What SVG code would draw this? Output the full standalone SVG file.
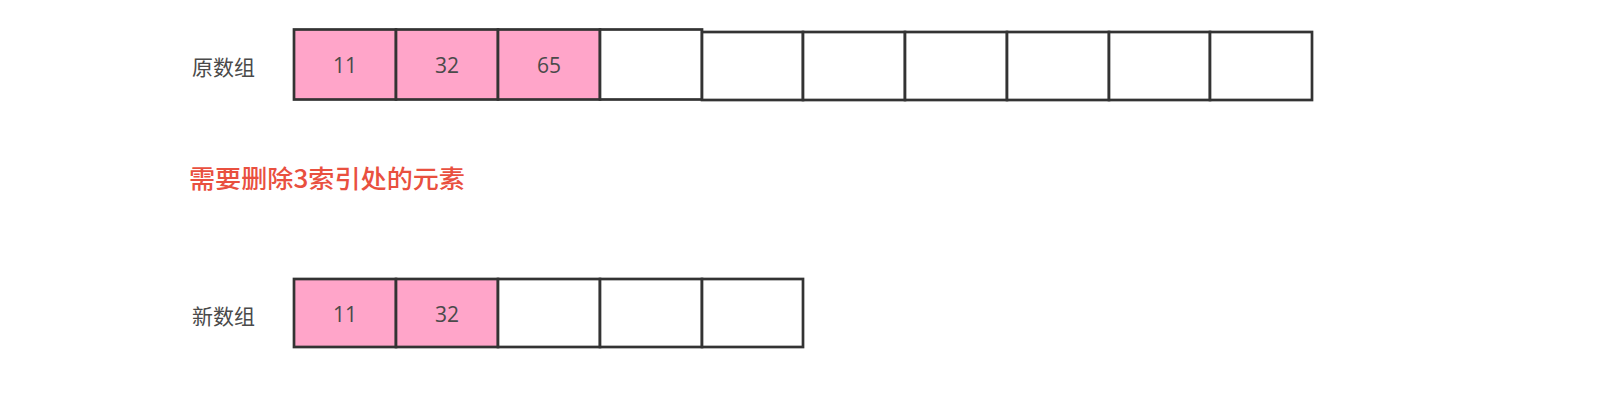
<svg xmlns="http://www.w3.org/2000/svg" width="1624" height="402" viewBox="0 0 1624 402">
<style>
.cell{stroke:#333;stroke-width:2.7}
.pink{fill:#FFA5C9}
.white{fill:#fff}
.num{font-family:"Open Sans","Liberation Sans",sans-serif;font-size:21px;fill:#4a4a4a;text-anchor:middle;dominant-baseline:central}
.lbl{font-family:"Noto Sans CJK SC",sans-serif;font-size:21px;fill:#4a4a4a;dominant-baseline:central}
.red{font-family:"Noto Sans CJK SC",sans-serif;font-size:25px;font-weight:500;fill:#E9503F;dominant-baseline:central}
</style>
<rect width="1624" height="402" fill="#fff"/>
<g id="label-orig"><text class="lbl" x="192" y="66">原数组</text></g>
<g id="orig-array">
<rect class="cell pink" x="294" y="29.5" width="102" height="70"/>
<rect class="cell pink" x="396" y="29.5" width="102" height="70"/>
<rect class="cell pink" x="498" y="29.5" width="102" height="70"/>
<rect class="cell white" x="600" y="29.5" width="102" height="70"/>
<rect class="cell white" x="702" y="32" width="101" height="68"/>
<rect class="cell white" x="803" y="32" width="102" height="68"/>
<rect class="cell white" x="905" y="32" width="102" height="68"/>
<rect class="cell white" x="1007" y="32" width="102" height="68"/>
<rect class="cell white" x="1109" y="32" width="101" height="68"/>
<rect class="cell white" x="1210" y="32" width="102" height="68"/>
<text class="num" x="345" y="65">11</text>
<text class="num" x="447" y="65">32</text>
<text class="num" x="549" y="65">65</text>
</g>
<g id="note"><text class="red" x="189" y="177" textLength="276" lengthAdjust="spacingAndGlyphs">需要删除3索引处的元素</text></g>
<g id="label-new"><text class="lbl" x="192" y="315">新数组</text></g>
<g id="new-array">
<rect class="cell pink" x="294" y="279" width="102" height="68"/>
<rect class="cell pink" x="396" y="279" width="102" height="68"/>
<rect class="cell white" x="498" y="279" width="102" height="68"/>
<rect class="cell white" x="600" y="279" width="102" height="68"/>
<rect class="cell white" x="702" y="279" width="101" height="68"/>
<text class="num" x="345" y="314">11</text>
<text class="num" x="447" y="314">32</text>
</g>
<g id="connectors"></g>
</svg>
